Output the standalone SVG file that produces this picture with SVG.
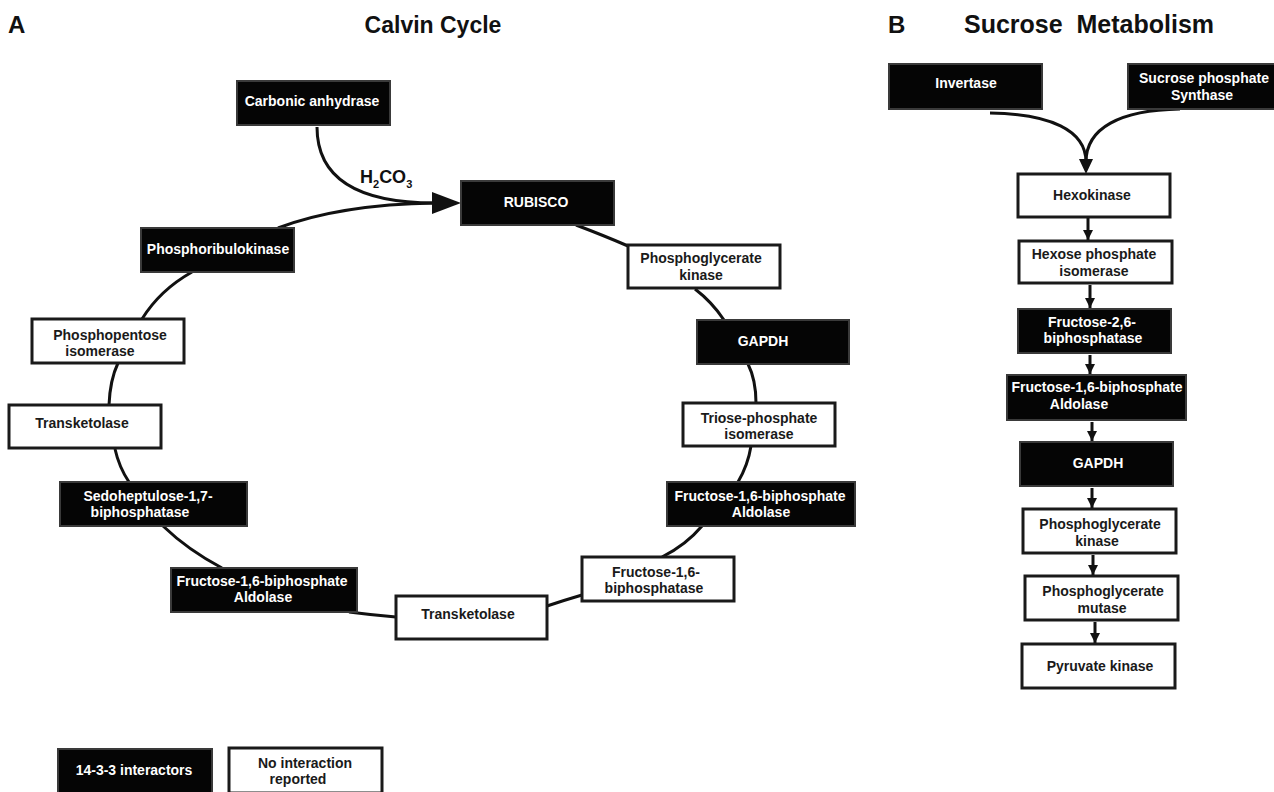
<svg xmlns="http://www.w3.org/2000/svg" width="1274" height="792" viewBox="0 0 1274 792">
<defs>
<style>
.b{fill:#050505;stroke:#3a3a3a;stroke-width:2}
.w{fill:#fff;stroke:#1a1a1a;stroke-width:3}
text{font-family:"Liberation Sans",Arial,sans-serif;font-weight:bold;font-size:14px;text-anchor:middle}
.tw{fill:#fff}
.tk{fill:#1a1a1a}
.c{fill:none;stroke:#111;stroke-width:3}
.h{font-size:24px;fill:#111}
</style>
<marker id="ah" viewBox="0 0 10 10" refX="10" refY="5" markerUnits="userSpaceOnUse" markerWidth="12" markerHeight="10" orient="auto">
<path d="M0,0 L10,5 L0,10 Z" fill="#111"/>
</marker>
</defs>
<rect width="1274" height="792" fill="#fff"/>

<g id="titles">
<text class="h" x="8" y="33" style="text-anchor:start">A</text>
<text class="h" x="433" y="33" style="font-size:23px">Calvin Cycle</text>
<text class="h" x="888" y="33" style="text-anchor:start">B</text>
<text class="h" x="1089" y="33" style="font-size:25px" xml:space="preserve">Sucrose  Metabolism</text>
</g>

<g id="connectors">
<path class="c" d="M317,127 C317,180 360,203 435,203"/>
<path class="c" d="M278,228 C320,212 370,204 435,203"/>
<polygon points="432,192 461,203 432,214" fill="#111"/>
<path class="c" d="M576,225 Q605,236 628,246"/>
<path class="c" d="M695,289 Q712,302 724,320"/>
<path class="c" d="M748,364 Q756,380 756,403"/>
<path class="c" d="M751,446 Q748,465 738,482"/>
<path class="c" d="M702,526 Q686,545 662,557"/>
<path class="c" d="M582,595 Q565,600 547,606"/>
<path class="c" d="M396,617 Q372,615 349,612"/>
<path class="c" d="M222,568 Q188,550 163,526"/>
<path class="c" d="M129,482 Q119,467 115,449"/>
<path class="c" d="M109,405 Q110,380 118,363"/>
<path class="c" d="M142,319 Q160,290 192,272"/>
<path class="c" d="M990,113 C1050,114 1086,130 1086,162"/>
<path class="c" d="M1180,109 C1120,110 1086,128 1086,162"/>
<polygon points="1079,159 1093,159 1086,174" fill="#111"/>
<path class="c" d="M1088,218 L1088,240" marker-end="url(#ah)"/>
<path class="c" d="M1090,285 L1090,308" marker-end="url(#ah)"/>
<path class="c" d="M1090,355 L1090,374" marker-end="url(#ah)"/>
<path class="c" d="M1092,422 L1092,441" marker-end="url(#ah)"/>
<path class="c" d="M1092,488 L1092,508" marker-end="url(#ah)"/>
<path class="c" d="M1093,555 L1093,575" marker-end="url(#ah)"/>
<path class="c" d="M1095,622 L1095,643" marker-end="url(#ah)"/>
<text x="360" y="183" style="font-size:18px;text-anchor:start;fill:#111">H<tspan dy="5" style="font-size:11px">2</tspan><tspan dy="-5">CO</tspan><tspan dy="5" style="font-size:11px">3</tspan></text>
</g>

<g id="carbonic-anhydrase"><rect class="b" x="237" y="81" width="153" height="44"/><text class="tw" x="312" y="106">Carbonic anhydrase</text></g>
<g id="rubisco"><rect class="b" x="461" y="181" width="153" height="44"/><text class="tw" x="536" y="207">RUBISCO</text></g>
<g id="phosphoribulokinase"><rect class="b" x="141" y="228" width="153" height="44"/><text class="tw" x="218" y="254">Phosphoribulokinase</text></g>
<g id="pgk-calvin"><rect class="w" x="628" y="245" width="152" height="43"/><text class="tk" x="701" y="263">Phosphoglycerate</text><text class="tk" x="701" y="280">kinase</text></g>
<g id="gapdh-calvin"><rect class="b" x="697" y="320" width="152" height="44"/><text class="tw" x="763" y="346">GAPDH</text></g>
<g id="phosphopentose-isomerase"><rect class="w" x="32" y="319" width="152" height="44"/><text class="tk" x="110" y="340">Phosphopentose</text><text class="tk" x="100" y="356">isomerase</text></g>
<g id="transketolase-left"><rect class="w" x="9" y="405" width="152" height="43"/><text class="tk" x="82" y="428">Transketolase</text></g>
<g id="triose-phosphate-isomerase"><rect class="w" x="683" y="403" width="152" height="43"/><text class="tk" x="759" y="423">Triose-phosphate</text><text class="tk" x="759" y="439">isomerase</text></g>
<g id="sedoheptulose"><rect class="b" x="60" y="482" width="187" height="44"/><text class="tw" x="148" y="501">Sedoheptulose-1,7-</text><text class="tw" x="140" y="517">biphosphatase</text></g>
<g id="fba-right"><rect class="b" x="667" y="482" width="188" height="44"/><text class="tw" x="760" y="501">Fructose-1,6-biphosphate</text><text class="tw" x="761" y="517">Aldolase</text></g>
<g id="fba-left"><rect class="b" x="171" y="568" width="186" height="44"/><text class="tw" x="262" y="586">Fructose-1,6-biphosphate</text><text class="tw" x="263" y="602">Aldolase</text></g>
<g id="fbpase"><rect class="w" x="582" y="557" width="152" height="44"/><text class="tk" x="656" y="577">Fructose-1,6-</text><text class="tk" x="654" y="593">biphosphatase</text></g>
<g id="transketolase-bottom"><rect class="w" x="396" y="596" width="151" height="43"/><text class="tk" x="468" y="619">Transketolase</text></g>

<g id="invertase"><rect class="b" x="889" y="64" width="153" height="45"/><text class="tw" x="966" y="88">Invertase</text></g>
<g id="sps"><rect class="b" x="1128" y="64" width="150" height="45"/><text class="tw" x="1204" y="83">Sucrose phosphate</text><text class="tw" x="1202" y="100">Synthase</text></g>
<g id="hexokinase"><rect class="w" x="1018" y="174" width="152" height="43"/><text class="tk" x="1092" y="200">Hexokinase</text></g>
<g id="hexose-phosphate-isomerase"><rect class="w" x="1019" y="241" width="153" height="42"/><text class="tk" x="1094" y="259">Hexose phosphate</text><text class="tk" x="1094" y="276">isomerase</text></g>
<g id="f26bpase"><rect class="b" x="1018" y="309" width="153" height="44"/><text class="tw" x="1092" y="327">Fructose-2,6-</text><text class="tw" x="1093" y="343">biphosphatase</text></g>
<g id="fba-sucrose"><rect class="b" x="1007" y="375" width="179" height="45"/><text class="tw" x="1097" y="392">Fructose-1,6-biphosphate</text><text class="tw" x="1079" y="409">Aldolase</text></g>
<g id="gapdh-sucrose"><rect class="b" x="1020" y="442" width="153" height="44"/><text class="tw" x="1098" y="468">GAPDH</text></g>
<g id="pgk-sucrose"><rect class="w" x="1023" y="509" width="153" height="44"/><text class="tk" x="1100" y="529">Phosphoglycerate</text><text class="tk" x="1097" y="546">kinase</text></g>
<g id="pgm"><rect class="w" x="1025" y="576" width="153" height="44"/><text class="tk" x="1103" y="596">Phosphoglycerate</text><text class="tk" x="1102" y="613">mutase</text></g>
<g id="pyruvate-kinase"><rect class="w" x="1022" y="644" width="153" height="44"/><text class="tk" x="1100" y="671">Pyruvate kinase</text></g>

<g id="legend-interactors"><rect class="b" x="58" y="749" width="154" height="44"/><text class="tw" x="134" y="775">14-3-3 interactors</text></g>
<g id="legend-no-interaction"><rect class="w" x="229" y="748" width="153" height="45"/><text class="tk" x="305" y="768">No interaction</text><text class="tk" x="298" y="784">reported</text></g>
</svg>
